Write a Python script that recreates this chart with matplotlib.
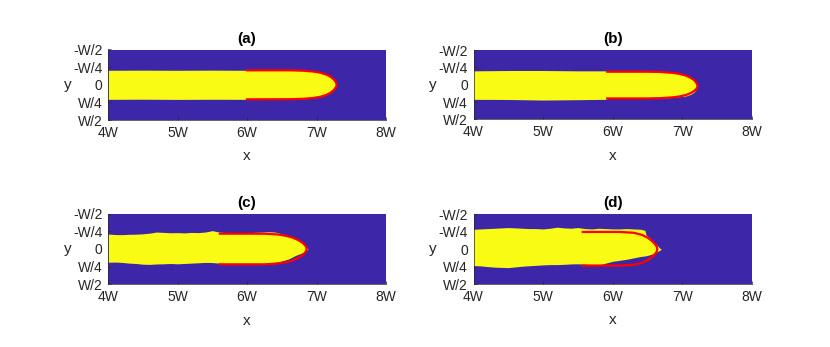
import matplotlib
matplotlib.use("Agg")
import matplotlib.pyplot as plt
import numpy as np

plt.rcParams['font.family'] = ['Liberation Sans', 'DejaVu Sans']

BLUE = '#3E26A8'
YELLOW = '#F9FB15'

panel_titles = ['(a)', '(b)', '(c)', '(d)']
x_ticks = [4, 5, 6, 7, 8]
x_tick_labels = ['4W', '5W', '6W', '7W', '8W']
y_ticks = [-0.5, -0.25, 0, 0.25, 0.5]
y_tick_labels = ['-W/2', '-W/4', '0', 'W/4', 'W/2']

# ---- panel (a) ----
a_yx = [4.0, 4.5, 5.0, 5.5, 6.0, 6.6, 6.8, 6.95, 7.05, 7.14, 7.20, 7.25, 7.28, 7.29]
a_ytop = [-0.205, -0.207, -0.205, -0.207, -0.205, -0.205, -0.200, -0.188, -0.172, -0.145, -0.115, -0.075, -0.035, 0.0]
a_ybot = [0.207, 0.205, 0.208, 0.206, 0.207, 0.205, 0.200, 0.188, 0.172, 0.145, 0.115, 0.075, 0.035, 0.0]
a_rx = [6.0, 6.6, 6.8, 6.95, 7.05, 7.14, 7.20, 7.25, 7.28, 7.29]
a_rtop = [-0.205, -0.205, -0.200, -0.188, -0.172, -0.145, -0.115, -0.075, -0.035, 0.0]
a_rbot = [0.207, 0.205, 0.200, 0.188, 0.172, 0.145, 0.115, 0.075, 0.035, 0.0]

# ---- panel (b) ----
b_yx = [4.0, 4.5, 5.0, 5.5, 5.9, 5.92, 6.5, 6.7, 6.85, 6.95, 7.05, 7.12, 7.17, 7.20, 7.22]
b_ytop = [-0.200, -0.205, -0.205, -0.200, -0.200, -0.188, -0.188, -0.183, -0.172, -0.158, -0.132, -0.100, -0.065, -0.030, 0.02]
b_ybot = [0.210, 0.212, 0.220, 0.215, 0.210, 0.197, 0.197, 0.192, 0.182, 0.172, 0.162, 0.138, 0.105, 0.065, 0.02]
b_rx = [5.92, 6.5, 6.7, 6.85, 6.95, 7.05, 7.12, 7.17, 7.20, 7.22]
b_rtop = [-0.188, -0.188, -0.183, -0.172, -0.158, -0.132, -0.100, -0.065, -0.030, 0.02]
b_rbot = [0.197, 0.197, 0.192, 0.182, 0.170, 0.148, 0.120, 0.090, 0.060, 0.02]

# ---- panel (c) ----
c_yx = [4.0, 4.1, 4.2, 4.3, 4.4, 4.5, 4.6, 4.7, 4.8, 4.9, 5.0, 5.1, 5.2, 5.3, 5.4, 5.5,
        5.6, 5.7, 5.8, 5.9, 6.0, 6.1, 6.2, 6.3, 6.4, 6.5, 6.6, 6.7, 6.78, 6.84, 6.88]
c_ytop = [-0.212, -0.205, -0.203, -0.208, -0.210, -0.215, -0.225, -0.240, -0.235, -0.230, -0.232,
          -0.228, -0.235, -0.232, -0.240, -0.260, -0.240, -0.232, -0.228, -0.225, -0.230, -0.235,
          -0.240, -0.245, -0.240, -0.215, -0.180, -0.140, -0.090, -0.040, 0.0]
c_ybot = [0.188, 0.185, 0.190, 0.200, 0.205, 0.215, 0.218, 0.212, 0.210, 0.205, 0.210,
          0.205, 0.200, 0.195, 0.190, 0.192, 0.200, 0.217, 0.217, 0.217, 0.217, 0.215,
          0.210, 0.200, 0.190, 0.170, 0.140, 0.090, 0.060, 0.030, 0.0]
c_rx = [5.61, 6.25, 6.45, 6.57, 6.66, 6.73, 6.79, 6.83, 6.85, 6.86]
c_rtop = [-0.217, -0.217, -0.205, -0.185, -0.160, -0.130, -0.095, -0.060, -0.030, 0.0]
c_rbot = [0.217, 0.217, 0.205, 0.185, 0.160, 0.130, 0.095, 0.060, 0.030, 0.0]

# ---- panel (d) ----
d_yx = [4.0, 4.1, 4.2, 4.3, 4.4, 4.5, 4.6, 4.7, 4.8, 4.9, 5.0, 5.1, 5.2, 5.3, 5.4, 5.5,
        5.6, 5.7, 5.8, 5.9, 6.0, 6.1, 6.2, 6.3, 6.4, 6.46, 6.48, 6.52, 6.57, 6.61, 6.65, 6.68, 6.70]
d_ytop = [-0.285, -0.290, -0.295, -0.300, -0.305, -0.310, -0.305, -0.300, -0.295, -0.295, -0.290,
          -0.300, -0.315, -0.305, -0.300, -0.310, -0.295, -0.290, -0.300, -0.295, -0.290, -0.290,
          -0.295, -0.290, -0.285, -0.270, -0.200, -0.170, -0.125, -0.080, -0.040, -0.010, 0.0]
d_ybot = [0.236, 0.240, 0.250, 0.258, 0.262, 0.265, 0.255, 0.245, 0.238, 0.232, 0.226,
          0.222, 0.222, 0.218, 0.212, 0.210, 0.215, 0.225, 0.230, 0.200, 0.174, 0.160,
          0.145, 0.125, 0.105, 0.098, 0.094, 0.085, 0.068, 0.050, 0.030, 0.012, 0.0]
d_rx = [5.57, 6.1, 6.3, 6.42, 6.50, 6.56, 6.60, 6.63, 6.64]
d_rtop = [-0.247, -0.247, -0.235, -0.205, -0.165, -0.120, -0.080, -0.040, 0.0]
d_rbot = [0.235, 0.235, 0.225, 0.195, 0.160, 0.120, 0.080, 0.040, 0.0]

panels = [
    (a_yx, a_ytop, a_ybot, a_rx, a_rtop, a_rbot),
    (b_yx, b_ytop, b_ybot, b_rx, b_rtop, b_rbot),
    (c_yx, c_ytop, c_ybot, c_rx, c_rtop, c_rbot),
    (d_yx, d_ytop, d_ybot, d_rx, d_rtop, d_rbot),
]

W, H = 830, 347
# axes boxes in pixels: left, top, right, bottom
boxes = [
    (108, 49.5, 386, 120.0),
    (473.5, 50.0, 752, 119.5),
    (108, 213.7, 386, 284.3),
    (473.5, 214.3, 752, 284.0),
]

fig = plt.figure(figsize=(8.3, 3.47), dpi=100)
for (l, t, r, b), title, (yx, ytop, ybot, rx, rtop, rbot) in zip(boxes, panel_titles, panels):
    ax = fig.add_axes([l / W, 1 - b / H, (r - l) / W, (b - t) / H])
    ax.set_facecolor(BLUE)
    ax.fill_between(yx, ytop, ybot, color=YELLOW, linewidth=0, zorder=2)
    ax.plot(list(rx) + list(rx[::-1]), list(rtop) + list(rbot[::-1]),
            color='#FF0000', linewidth=1.6, zorder=3, solid_joinstyle='round')
    ax.set_xlim(4, 8)
    ax.set_ylim(0.5, -0.5)
    ax.set_xticks(x_ticks)
    ax.set_xticklabels(x_tick_labels)
    ax.set_yticks(y_ticks)
    ax.set_yticklabels(y_tick_labels)
    ax.tick_params(direction='in', length=2.5, width=0.5, color='#262626',
                   labelsize=10, labelcolor='#262626', pad=4)
    for s in ['top', 'right']:
        ax.spines[s].set_visible(False)
    for s in ['left', 'bottom']:
        ax.spines[s].set_color('#262626')
        ax.spines[s].set_linewidth(0.5)
    ax.set_xlabel('x', fontsize=11, color='#262626', labelpad=7)
    ax.set_ylabel('y', fontsize=11, color='#262626', rotation=0, labelpad=4, va='center')
    ax.set_title(title, fontsize=11, fontweight='bold', pad=5)

fig.savefig('out.png', dpi=100)
